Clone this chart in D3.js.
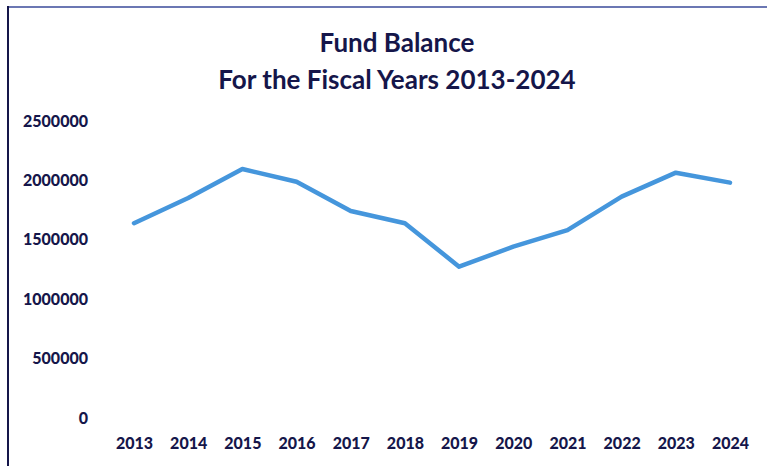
<!DOCTYPE html>
<html>
<head>
<meta charset="utf-8">
<script src="https://cdn.jsdelivr.net/npm/d3@7"></script>
<style>
  body { margin: 0; background: #fff; }
  svg text { font-family: Lato, "Open Sans", sans-serif; font-weight: bold; fill: #15164a; }
</style>
</head>
<body>
<div id="chart"></div>
<script>
const width = 767;
const height = 466;

// Données
const years = ["2013", "2014", "2015", "2016", "2017", "2018", "2019", "2020", "2021", "2022", "2023", "2024"];
const balances = [1640000, 1852000, 2096000, 1989000, 1742000, 1639000, 1274000, 1442000, 1582000, 1863000, 2065000, 1981000];
const yTicks = [0, 500000, 1000000, 1500000, 2000000, 2500000];
const titleLines = ["Fund Balance", "For the Fiscal Years 2013-2024"];

const margin = { top: 121, right: 37, bottom: 48, left: 106 };

const svg = d3.select("#chart").append("svg")
    .attr("width", width)
    .attr("height", height);

// Cadre (haut et gauche)
svg.append("line").attr("x1", 8).attr("y1", 7).attr("x2", 767).attr("y2", 7)
    .attr("stroke", "#3a4a9a").attr("stroke-width", 1.5);
svg.append("line").attr("x1", 8).attr("y1", 6).attr("x2", 8).attr("y2", 466)
    .attr("stroke", "#15164a").attr("stroke-width", 2);

// Titre
svg.selectAll(".title")
    .data(titleLines)
    .enter().append("text")
    .attr("class", "title")
    .attr("x", 397)
    .attr("y", (d, i) => 52 + i * 37)
    .attr("text-anchor", "middle")
    .style("font-size", "26px")
    .text(d => d);

const x = d3.scalePoint()
    .domain(years)
    .range([margin.left + 28, width - margin.right]);

const y = d3.scaleLinear()
    .domain([0, 2500000])
    .range([height - margin.bottom, margin.top]);

// Axe Y (sans ligne ni graduations)
const yAxis = svg.append("g")
    .attr("transform", `translate(${margin.left - 15},0)`)
    .call(d3.axisLeft(y).tickValues(yTicks).tickSize(0).tickFormat(d3.format("d")));
yAxis.select(".domain").remove();
yAxis.selectAll("text")
    .style("font-size", "16px")
    .style("font-family", "Lato, sans-serif")
    .style("font-weight", "900")
    .attr("fill", "#15164a");

// Axe X
const xAxis = svg.append("g")
    .attr("transform", `translate(0,${height - margin.bottom + 17})`)
    .call(d3.axisBottom(x).tickSize(0));
xAxis.select(".domain").remove();
xAxis.selectAll("text")
    .style("font-size", "16px")
    .style("font-family", "Lato, sans-serif")
    .style("font-weight", "900")
    .attr("fill", "#15164a");

// Courbe
const line = d3.line()
    .x((d, i) => x(years[i]))
    .y(d => y(d));

svg.append("path")
    .datum(balances)
    .attr("fill", "none")
    .attr("stroke", "#4596dc")
    .attr("stroke-width", 4.5)
    .attr("stroke-linejoin", "round")
    .attr("stroke-linecap", "round")
    .attr("d", line);
</script>
</body>
</html>
